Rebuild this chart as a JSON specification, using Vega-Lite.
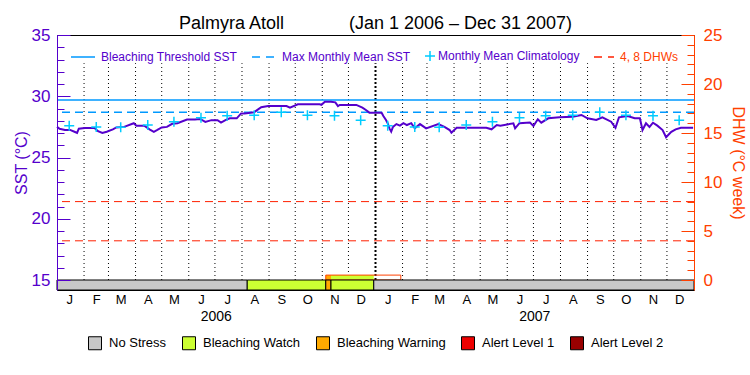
{
  "$schema": "https://vega.github.io/schema/vega-lite/v6.json",
  "width": 637,
  "height": 255,
  "autosize": {"type": "none"},
  "padding": {"left": 57, "top": 35, "right": 56, "bottom": 85},
  "background": "white",
  "title": {"text": "Palmyra Atoll\u00a0\u00a0\u00a0\u00a0\u00a0\u00a0\u00a0\u00a0\u00a0\u00a0\u00a0\u00a0\u00a0(Jan 1 2006 \u2013 Dec 31 2007)", "font": "Liberation Sans", "fontSize": 18, "fontWeight": "normal", "color": "black", "offset": -7, "anchor": "middle"},
  "config": {"view": {"stroke": "black", "strokeWidth": 1}, "font": "Liberation Sans"},
  "datasets": {
    "grid": [
      {"date": "2006-02-01"}, {"date": "2006-03-01"}, {"date": "2006-04-01"}, {"date": "2006-05-01"}, {"date": "2006-06-01"}, {"date": "2006-07-01"}, {"date": "2006-08-01"}, {"date": "2006-09-01"}, {"date": "2006-10-01"}, {"date": "2006-11-01"}, {"date": "2006-12-01"},
      {"date": "2007-02-01"}, {"date": "2007-03-01"}, {"date": "2007-04-01"}, {"date": "2007-05-01"}, {"date": "2007-06-01"}, {"date": "2007-07-01"}, {"date": "2007-08-01"}, {"date": "2007-09-01"}, {"date": "2007-10-01"}, {"date": "2007-11-01"}, {"date": "2007-12-01"}
    ],
    "yearline": [{"date": "2007-01-01"}],
    "refs": [
      {"series": "Bleaching Threshold SST", "value": 29.7},
      {"series": "Max Monthly Mean SST", "value": 28.7}
    ],
    "dhwref": [
      {"series": "4, 8 DHWs", "value": 4},
      {"series": "4, 8 DHWs", "value": 8}
    ],
    "sst": [
      {"date": "2006-01-01", "sst": 27.5}, {"date": "2006-01-04", "sst": 27.35}, {"date": "2006-01-10", "sst": 27.25}, {"date": "2006-01-16", "sst": 27.25}, {"date": "2006-01-21", "sst": 27.1}, {"date": "2006-01-24", "sst": 27.0}, {"date": "2006-01-26", "sst": 27.35},
      {"date": "2006-02-02", "sst": 27.4}, {"date": "2006-02-13", "sst": 27.4}, {"date": "2006-02-17", "sst": 27.15}, {"date": "2006-02-22", "sst": 27.0}, {"date": "2006-02-27", "sst": 27.1},
      {"date": "2006-03-06", "sst": 27.3}, {"date": "2006-03-10", "sst": 27.45}, {"date": "2006-03-19", "sst": 27.5}, {"date": "2006-03-30", "sst": 27.8},
      {"date": "2006-04-02", "sst": 27.6}, {"date": "2006-04-11", "sst": 27.6}, {"date": "2006-04-17", "sst": 27.3}, {"date": "2006-04-22", "sst": 27.1}, {"date": "2006-04-26", "sst": 27.25},
      {"date": "2006-05-01", "sst": 27.45}, {"date": "2006-05-07", "sst": 27.5}, {"date": "2006-05-13", "sst": 27.75}, {"date": "2006-05-19", "sst": 27.8}, {"date": "2006-05-30", "sst": 28.1},
      {"date": "2006-06-08", "sst": 28.1}, {"date": "2006-06-14", "sst": 28.15}, {"date": "2006-06-20", "sst": 27.9}, {"date": "2006-06-27", "sst": 28.05},
      {"date": "2006-07-04", "sst": 28.05}, {"date": "2006-07-08", "sst": 27.85}, {"date": "2006-07-13", "sst": 28.05}, {"date": "2006-07-18", "sst": 28.2}, {"date": "2006-07-26", "sst": 28.2}, {"date": "2006-07-31", "sst": 28.6},
      {"date": "2006-08-04", "sst": 28.6}, {"date": "2006-08-15", "sst": 28.7}, {"date": "2006-08-23", "sst": 29.1}, {"date": "2006-08-31", "sst": 29.2},
      {"date": "2006-09-21", "sst": 29.2}, {"date": "2006-09-25", "sst": 29.07},
      {"date": "2006-10-04", "sst": 29.34}, {"date": "2006-10-29", "sst": 29.34}, {"date": "2006-10-31", "sst": 29.3},
      {"date": "2006-11-04", "sst": 29.56}, {"date": "2006-11-11", "sst": 29.56}, {"date": "2006-11-16", "sst": 29.5}, {"date": "2006-11-19", "sst": 29.2}, {"date": "2006-11-21", "sst": 29.29},
      {"date": "2006-12-10", "sst": 29.29}, {"date": "2006-12-17", "sst": 29.07}, {"date": "2006-12-21", "sst": 28.88}, {"date": "2006-12-25", "sst": 28.66},
      {"date": "2007-01-08", "sst": 28.66}, {"date": "2007-01-10", "sst": 28.39}, {"date": "2007-01-13", "sst": 28.06}, {"date": "2007-01-15", "sst": 27.79}, {"date": "2007-01-17", "sst": 27.38}, {"date": "2007-01-19", "sst": 27.11}, {"date": "2007-01-21", "sst": 27.5}, {"date": "2007-01-25", "sst": 27.73}, {"date": "2007-01-29", "sst": 27.6},
      {"date": "2007-02-02", "sst": 27.8}, {"date": "2007-02-06", "sst": 27.65}, {"date": "2007-02-11", "sst": 27.8}, {"date": "2007-02-15", "sst": 27.38}, {"date": "2007-02-21", "sst": 27.73}, {"date": "2007-02-28", "sst": 27.38},
      {"date": "2007-03-14", "sst": 27.73}, {"date": "2007-03-21", "sst": 27.5}, {"date": "2007-03-27", "sst": 27.24}, {"date": "2007-03-29", "sst": 27.02},
      {"date": "2007-04-04", "sst": 27.43}, {"date": "2007-05-08", "sst": 27.43}, {"date": "2007-05-14", "sst": 27.3}, {"date": "2007-05-20", "sst": 27.65}, {"date": "2007-05-24", "sst": 27.6},
      {"date": "2007-06-08", "sst": 27.79}, {"date": "2007-06-10", "sst": 27.38}, {"date": "2007-06-15", "sst": 27.8}, {"date": "2007-06-27", "sst": 27.85},
      {"date": "2007-07-01", "sst": 27.57}, {"date": "2007-07-06", "sst": 28.12}, {"date": "2007-07-10", "sst": 27.84}, {"date": "2007-07-18", "sst": 28.2}, {"date": "2007-07-31", "sst": 28.28},
      {"date": "2007-08-15", "sst": 28.33}, {"date": "2007-08-25", "sst": 28.47},
      {"date": "2007-09-01", "sst": 28.2}, {"date": "2007-09-11", "sst": 28.06}, {"date": "2007-09-18", "sst": 28.28}, {"date": "2007-09-28", "sst": 27.92},
      {"date": "2007-10-03", "sst": 27.43}, {"date": "2007-10-07", "sst": 28.28}, {"date": "2007-10-17", "sst": 28.39}, {"date": "2007-10-25", "sst": 28.2}, {"date": "2007-10-31", "sst": 28.2},
      {"date": "2007-11-03", "sst": 27.24}, {"date": "2007-11-07", "sst": 27.8}, {"date": "2007-11-11", "sst": 27.5}, {"date": "2007-11-15", "sst": 27.84}, {"date": "2007-11-20", "sst": 27.6}, {"date": "2007-11-26", "sst": 27.24}, {"date": "2007-11-30", "sst": 26.65},
      {"date": "2007-12-06", "sst": 27.1}, {"date": "2007-12-11", "sst": 27.3}, {"date": "2007-12-17", "sst": 27.43}, {"date": "2007-12-31", "sst": 27.43}
    ],
    "clim": [
      {"series": "Monthly Mean Climatology", "date": "2006-01-15", "sst": 27.6},
      {"series": "Monthly Mean Climatology", "date": "2006-02-15", "sst": 27.5},
      {"series": "Monthly Mean Climatology", "date": "2006-03-15", "sst": 27.46},
      {"series": "Monthly Mean Climatology", "date": "2006-04-15", "sst": 27.65},
      {"series": "Monthly Mean Climatology", "date": "2006-05-15", "sst": 27.92},
      {"series": "Monthly Mean Climatology", "date": "2006-06-15", "sst": 28.24},
      {"series": "Monthly Mean Climatology", "date": "2006-07-15", "sst": 28.4},
      {"series": "Monthly Mean Climatology", "date": "2006-08-15", "sst": 28.44},
      {"series": "Monthly Mean Climatology", "date": "2006-09-15", "sst": 28.69},
      {"series": "Monthly Mean Climatology", "date": "2006-10-15", "sst": 28.44},
      {"series": "Monthly Mean Climatology", "date": "2006-11-15", "sst": 28.41},
      {"series": "Monthly Mean Climatology", "date": "2006-12-15", "sst": 28.05},
      {"series": "Monthly Mean Climatology", "date": "2007-01-15", "sst": 27.6},
      {"series": "Monthly Mean Climatology", "date": "2007-02-15", "sst": 27.5},
      {"series": "Monthly Mean Climatology", "date": "2007-03-15", "sst": 27.46},
      {"series": "Monthly Mean Climatology", "date": "2007-04-15", "sst": 27.65},
      {"series": "Monthly Mean Climatology", "date": "2007-05-15", "sst": 27.92},
      {"series": "Monthly Mean Climatology", "date": "2007-06-15", "sst": 28.24},
      {"series": "Monthly Mean Climatology", "date": "2007-07-15", "sst": 28.4},
      {"series": "Monthly Mean Climatology", "date": "2007-08-15", "sst": 28.44},
      {"series": "Monthly Mean Climatology", "date": "2007-09-15", "sst": 28.69},
      {"series": "Monthly Mean Climatology", "date": "2007-10-15", "sst": 28.44},
      {"series": "Monthly Mean Climatology", "date": "2007-11-15", "sst": 28.41},
      {"series": "Monthly Mean Climatology", "date": "2007-12-15", "sst": 28.05}
    ],
    "dhwfill": [
      {"start": "2006-11-05", "end": "2006-11-11", "dhw": 0.5, "status": "Bleaching Warning"},
      {"start": "2006-11-11", "end": "2006-12-30", "dhw": 0.5, "status": "Bleaching Watch"}
    ],
    "dhwline": [
      {"start": "2006-11-05", "end": "2007-01-30", "dhw": 0.5}
    ],
    "status": [
      {"start": "2006-01-01", "end": "2006-08-07", "status": "No Stress"},
      {"start": "2006-08-07", "end": "2006-11-05", "status": "Bleaching Watch"},
      {"start": "2006-11-05", "end": "2006-11-11", "status": "Bleaching Warning"},
      {"start": "2006-11-11", "end": "2006-12-30", "status": "Bleaching Watch"},
      {"start": "2006-12-30", "end": "2008-01-01", "status": "No Stress"}
    ]
  },
  "layer": [
    {
      "layer": [
        {
          "data": {"name": "yearline"},
          "mark": {"type": "rule", "strokeDash": [2, 2], "color": "black", "strokeWidth": 2},
          "encoding": {
            "x": {"field": "date", "type": "temporal", "title": null, "axis": null,
              "scale": {"type": "utc", "domain": [{"year": 2006, "month": 1, "date": 1, "utc": true}, {"year": 2008, "month": 1, "date": 1, "utc": true}]}},
            "y": {"datum": 15, "type": "quantitative",
              "scale": {"domain": [14.1837, 35], "nice": false, "zero": false},
              "axis": {"orient": "left", "title": null, "grid": false, "labels": false, "domain": false, "zindex": 1, "tickCount": 100,
                "values": [16, 17, 18, 19, 21, 22, 23, 24, 26, 27, 28, 29, 31, 32, 33, 34],
                "tickColor": "#5500cc", "tickSize": -7, "tickWidth": 1}},
            "y2": {"datum": 32.7}
          }
        }
      ]
    },
    {
      "layer": [
        {
          "data": {"name": "grid"},
          "mark": {"type": "rule", "strokeDash": [1, 3], "color": "black", "strokeWidth": 1},
          "encoding": {
            "x": {
              "field": "date", "type": "temporal", "title": null,
              "scale": {"type": "utc", "domain": [{"year": 2006, "month": 1, "date": 1, "utc": true}, {"year": 2008, "month": 1, "date": 1, "utc": true}]},
              "axis": {
                "orient": "bottom", "title": null, "ticks": false, "domain": false, "grid": false, "tickCount": 100,
                "values": [
                  {"year": 2006, "month": 1, "date": 15, "utc": true}, {"year": 2006, "month": 2, "date": 15, "utc": true}, {"year": 2006, "month": 3, "date": 15, "utc": true}, {"year": 2006, "month": 4, "date": 15, "utc": true}, {"year": 2006, "month": 5, "date": 15, "utc": true}, {"year": 2006, "month": 6, "date": 15, "utc": true}, {"year": 2006, "month": 7, "date": 15, "utc": true}, {"year": 2006, "month": 8, "date": 15, "utc": true}, {"year": 2006, "month": 9, "date": 15, "utc": true}, {"year": 2006, "month": 10, "date": 15, "utc": true}, {"year": 2006, "month": 11, "date": 15, "utc": true}, {"year": 2006, "month": 12, "date": 15, "utc": true},
                  {"year": 2007, "month": 1, "date": 15, "utc": true}, {"year": 2007, "month": 2, "date": 15, "utc": true}, {"year": 2007, "month": 3, "date": 15, "utc": true}, {"year": 2007, "month": 4, "date": 15, "utc": true}, {"year": 2007, "month": 5, "date": 15, "utc": true}, {"year": 2007, "month": 6, "date": 15, "utc": true}, {"year": 2007, "month": 7, "date": 15, "utc": true}, {"year": 2007, "month": 8, "date": 15, "utc": true}, {"year": 2007, "month": 9, "date": 15, "utc": true}, {"year": 2007, "month": 10, "date": 15, "utc": true}, {"year": 2007, "month": 11, "date": 15, "utc": true}, {"year": 2007, "month": 12, "date": 15, "utc": true}
                ],
                "labelExpr": "substring(utcFormat(datum.value, '%b'), 0, 1)",
                "labelFont": "Liberation Sans", "labelFontSize": 13, "labelColor": "black", "labelPadding": 3,
                "labelOverlap": false, "labelFlush": false, "labelBound": false
              }
            },
            "y": {
              "datum": 15, "type": "quantitative", "title": "SST (\u00b0C)",
              "scale": {"domain": [14.1837, 35], "nice": false, "zero": false},
              "axis": {
                "orient": "left", "title": "SST (\u00b0C)", "grid": false, "zindex": 1, "tickCount": 100, "format": "d",
                "values": [15, 20, 25, 30, 35],
                "domainColor": "#5500cc", "tickColor": "#5500cc", "labelColor": "#5500cc", "titleColor": "#5500cc",
                "tickSize": -13, "labelOverlap": false, "labelFlush": false,
                "labelFont": "Liberation Sans", "labelFontSize": 17, "labelPadding": 20,
                "titleFont": "Liberation Sans", "titleFontSize": 16, "titleFontWeight": "normal", "titlePadding": 2
              }
            },
            "y2": {"datum": 32.7}
          }
        },
        {
          "data": {"name": "refs"},
          "mark": {"type": "rule", "strokeWidth": 1.5},
          "encoding": {
            "y": {"field": "value", "type": "quantitative", "title": "SST (\u00b0C)"},
            "stroke": {
              "field": "series", "type": "nominal",
              "scale": {"domain": ["Bleaching Threshold SST", "Max Monthly Mean SST", "Monthly Mean Climatology", "4, 8 DHWs"], "range": ["#0099ff", "#0099ff", "#00ccff", "#ff2000"]},
              "legend": {
                "orient": "none", "legendX": 14, "legendY": 8, "direction": "horizontal", "title": null,
                "labelFont": "Liberation Sans", "labelFontSize": 12, "labelColor": "#5500cc",
                "columnPadding": 11, "labelOffset": 4, "symbolSize": 576, "symbolStrokeWidth": 1.5, "symbolType": "stroke",
                "encode": {
                  "symbols": {"update": {
                    "shape": {"signal": "datum.value === 'Monthly Mean Climatology' ? 'M-1,0H1M0,-1V1' : 'stroke'"},
                    "size": {"signal": "datum.value === 'Monthly Mean Climatology' ? 100 : datum.value === '4, 8 DHWs' ? 400 : 576"},
                    "x": {"signal": "datum.value === 'Monthly Mean Climatology' ? 5 : datum.value === '4, 8 DHWs' ? 10 : 12"},
                    "strokeDash": {"signal": "(datum.value === 'Max Monthly Mean SST' || datum.value === '4, 8 DHWs') ? [8, 6] : [1, 0]"},
                    "fill": {"value": "transparent"},
                    "stroke": {"signal": "datum.value === 'Monthly Mean Climatology' ? '#00ccff' : datum.value === '4, 8 DHWs' ? '#ff2000' : '#0099ff'"}
                  }},
                  "labels": {"update": {
                    "fill": {"signal": "datum.value === '4, 8 DHWs' ? '#ff4000' : '#5500cc'"},
                    "dx": {"signal": "datum.value === 'Monthly Mean Climatology' ? -17 : datum.value === '4, 8 DHWs' ? -4 : 0"}
                  }}
                }
              }
            },
            "strokeDash": {
              "field": "series", "type": "nominal",
              "scale": {"domain": ["Bleaching Threshold SST", "Max Monthly Mean SST"], "range": [[1, 0], [8, 5]]},
              "legend": null
            }
          }
        },
        {
          "data": {"name": "sst"},
          "mark": {"type": "line", "color": "#5500cc", "strokeWidth": 2},
          "encoding": {
            "x": {"field": "date", "type": "temporal", "title": null},
            "y": {"field": "sst", "type": "quantitative", "title": "SST (\u00b0C)"}
          }
        },
        {
          "data": {"name": "clim"},
          "mark": {"type": "point", "shape": "M-1,0H1M0,-1V1", "size": 100, "strokeWidth": 1.5, "filled": false, "opacity": 1},
          "encoding": {
            "x": {"field": "date", "type": "temporal", "title": null},
            "y": {"field": "sst", "type": "quantitative", "title": "SST (\u00b0C)"},
            "stroke": {
              "field": "series", "type": "nominal",
              "scale": {"domain": ["Bleaching Threshold SST", "Max Monthly Mean SST", "Monthly Mean Climatology", "4, 8 DHWs"], "range": ["#0099ff", "#0099ff", "#00ccff", "#ff2000"]}
            }
          }
        }
      ]
    },
    {
      "layer": [
        {
          "data": {"name": "dhwfill"},
          "mark": {"type": "rect"},
          "encoding": {
            "x": {"field": "start", "type": "temporal", "title": null, "axis": null,
              "scale": {"type": "utc", "domain": [{"year": 2006, "month": 1, "date": 1, "utc": true}, {"year": 2008, "month": 1, "date": 1, "utc": true}]}},
            "x2": {"field": "end"},
            "y": {"field": "dhw", "type": "quantitative", "title": null,
              "scale": {"domain": [-1.0204, 25], "nice": false, "zero": false},
              "axis": {"orient": "right", "title": null, "grid": false, "labels": false, "domain": false, "zindex": 1, "tickCount": 100,
                "values": [1, 2, 3, 4, 6, 7, 8, 9, 11, 12, 13, 14, 16, 17, 18, 19, 21, 22, 23, 24],
                "tickColor": "#ff4000", "tickSize": -7, "tickWidth": 1}},
            "y2": {"datum": 0},
            "fill": {
              "field": "status", "type": "nominal",
              "scale": {"domain": ["No Stress", "Bleaching Watch", "Bleaching Warning", "Alert Level 1", "Alert Level 2"], "range": ["#c8c8c8", "#ccff33", "#ffaa00", "#ee0000", "#990000"]}
            }
          }
        },
        {
          "data": {"name": "dhwline"},
          "mark": {"type": "rect", "fillOpacity": 0, "stroke": "#ff4000", "strokeWidth": 1},
          "encoding": {
            "x": {"field": "start", "type": "temporal", "title": null},
            "x2": {"field": "end"},
            "y": {"field": "dhw", "type": "quantitative", "title": null},
            "y2": {"datum": 0}
          }
        }
      ]
    },
    {
      "layer": [
        {
          "data": {"name": "dhwref"},
          "mark": {"type": "rule", "strokeDash": [8, 5], "strokeWidth": 1},
          "encoding": {
            "y": {
              "field": "value", "type": "quantitative",
              "scale": {"domain": [-1.0204, 25], "nice": false, "zero": false},
              "axis": {
                "orient": "right", "title": "DHW (\u00b0C week)", "grid": false, "zindex": 1, "tickCount": 100, "format": "d",
                "values": [0, 5, 10, 15, 20, 25],
                "domainColor": "#ff4000", "tickColor": "#ff4000", "labelColor": "#ff4000", "titleColor": "#ff4000",
                "tickSize": -13, "labelOverlap": false, "labelFlush": false,
                "labelFont": "Liberation Sans", "labelFontSize": 17, "labelPadding": 22,
                "titleFont": "Liberation Sans", "titleFontSize": 16, "titleFontWeight": "normal", "titlePadding": 8
              }
            },
            "stroke": {
              "field": "series", "type": "nominal",
              "scale": {"domain": ["Bleaching Threshold SST", "Max Monthly Mean SST", "Monthly Mean Climatology", "4, 8 DHWs"], "range": ["#0099ff", "#0099ff", "#00ccff", "#ff2000"]}
            }
          }
        },
        {
          "data": {"name": "status"},
          "mark": {"type": "rect", "stroke": "black", "strokeWidth": 1},
          "encoding": {
            "x": {"field": "start", "type": "temporal", "title": null,
              "scale": {"type": "utc", "domain": [{"year": 2006, "month": 1, "date": 1, "utc": true}, {"year": 2008, "month": 1, "date": 1, "utc": true}]},
              "axis": {"orient": "bottom", "title": null, "ticks": false, "domain": false, "grid": false, "tickCount": 100,
                "values": [{"year": 2006, "month": 7, "date": 2, "utc": true}, {"year": 2007, "month": 7, "date": 2, "utc": true}],
                "format": "%Y", "labelFont": "Liberation Sans", "labelFontSize": 14, "labelColor": "black", "labelPadding": 19,
                "labelOverlap": false, "labelFlush": false, "labelBound": false}},
            "x2": {"field": "end"},
            "y": {"datum": -1.0204, "type": "quantitative"},
            "y2": {"datum": 0},
            "fill": {
              "field": "status", "type": "nominal",
              "scale": {"domain": ["No Stress", "Bleaching Watch", "Bleaching Warning", "Alert Level 1", "Alert Level 2"], "range": ["#c8c8c8", "#ccff33", "#ffaa00", "#ee0000", "#990000"]},
              "legend": {
                "orient": "none", "legendX": 31, "legendY": 301, "direction": "horizontal", "title": null,
                "symbolType": "square", "symbolSize": 169, "symbolStrokeColor": "black", "symbolStrokeWidth": 1, "symbolOpacity": 1,
                "labelFont": "Liberation Sans", "labelFontSize": 13, "labelColor": "black",
                "columnPadding": 13, "labelOffset": 7
              }
            }
          }
        }
      ]
    }
  ],
  "resolve": {"scale": {"y": "independent", "x": "independent"}, "axis": {"y": "independent", "x": "independent"}}
}
